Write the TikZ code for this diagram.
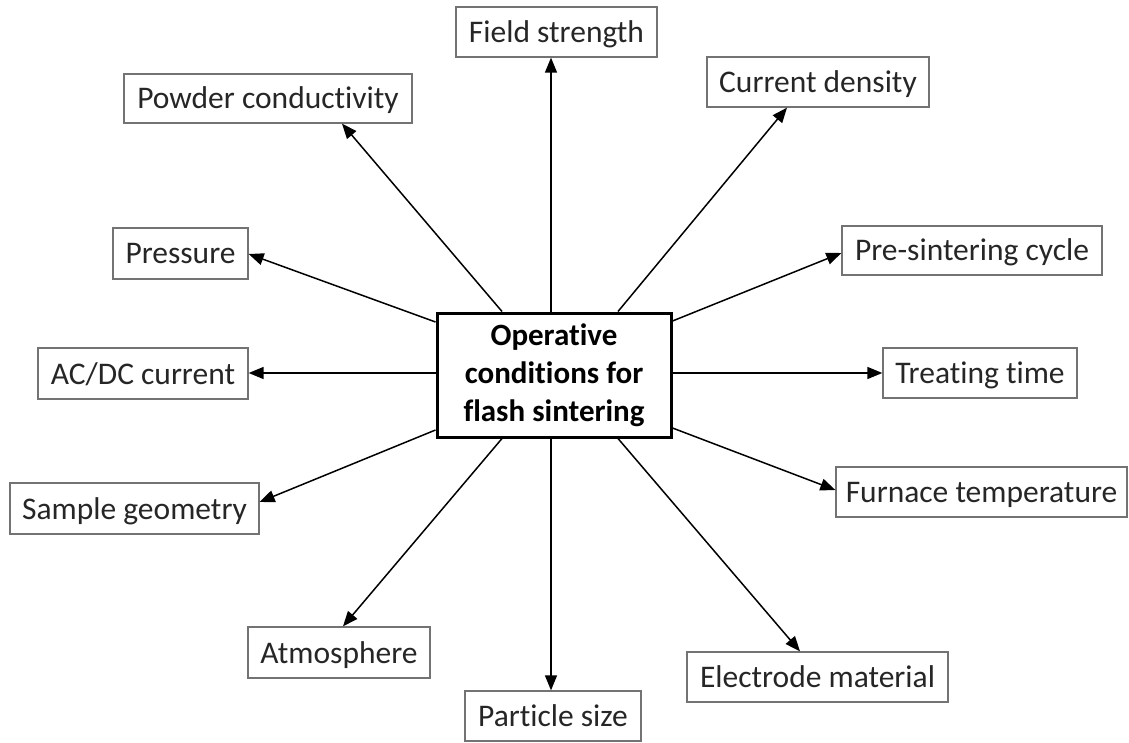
\documentclass[tikz,border=0pt]{standalone}
\usepackage{fontspec}
\setmainfont[RawFeature=-liga]{Carlito}
\usetikzlibrary{arrows.meta}
\begin{document}
\begin{tikzpicture}[x=1pt,y=-1pt,
  factor/.style={draw=black!55,line width=1.3pt,fill=white,inner sep=0pt,
    text height=21pt,text depth=0pt,
    font=\fontsize{31.5}{36}\selectfont,text=black!85},
  hub/.style={draw=black,line width=3pt,fill=white,inner sep=0pt,align=center,
    font=\fontsize{31}{38}\selectfont\bfseries},
  link/.style={line width=1.5pt,-{Triangle[length=15pt,width=12pt]}}]
\useasboundingbox[fill=white] (0,0) rectangle (1129,743);

\node[hub,minimum width=234pt,minimum height=124pt] (c) at (554,375)
  {Operative\\conditions for\\flash sintering};

\node[factor,minimum width=201pt,minimum height=50pt] (field) at (556.5,32) {Field strength};
\node[factor,minimum width=222pt,minimum height=50pt] (current) at (818,82) {Current density};
\node[factor,minimum width=288pt,minimum height=49pt] (powder) at (268,98.5) {Powder conductivity};
\node[factor,minimum width=260pt,minimum height=49pt] (pre) at (972,250.5) {Pre-sintering cycle};
\node[factor,minimum width=135pt,minimum height=51pt] (pressure) at (180.5,253.5) {Pressure};
\node[factor,minimum width=210pt,minimum height=51pt] (acdc) at (143,373.5) {AC/DC current};
\node[factor,minimum width=194pt,minimum height=50pt] (treating) at (980,373) {Treating time};
\node[factor,minimum width=249pt,minimum height=51pt] (sample) at (134.5,508.5) {Sample geometry};
\node[factor,minimum width=291pt,minimum height=50pt] (furnace) at (981.5,492) {Furnace temperature};
\node[factor,minimum width=182pt,minimum height=51pt] (atmos) at (339,652.5) {Atmosphere};
\node[factor,minimum width=261pt,minimum height=50pt] (electrode) at (817.5,677) {Electrode material};
\node[factor,minimum width=176pt,minimum height=50pt] (particle) at (553,716) {Particle size};

\draw[link] (c.north -| 551,0) -- (field.south -| 551,0);
\draw[link] (c.north -| 618,0) -- (current.south -| 787,0);
\draw[link] (c.north -| 502,0) -- (powder.south -| 342,0);
\draw[link] (c.east |- 0,321) -- (pre.west |- 0,253);
\draw[link] (c.west |- 0,322) -- (pressure.east |- 0,254);
\draw[link] (c.west |- 0,373) -- (acdc.east |- 0,373);
\draw[link] (c.east |- 0,373) -- (treating.west |- 0,373);
\draw[link] (c.west |- 0,430) -- (sample.east |- 0,502);
\draw[link] (c.east |- 0,428) -- (furnace.west |- 0,490);
\draw[link] (c.south -| 502,0) -- (atmos.north -| 343,0);
\draw[link] (c.south -| 618,0) -- (electrode.north -| 800,0);
\draw[link] (c.south -| 551,0) -- (particle.north -| 551,0);
\end{tikzpicture}
\end{document}
